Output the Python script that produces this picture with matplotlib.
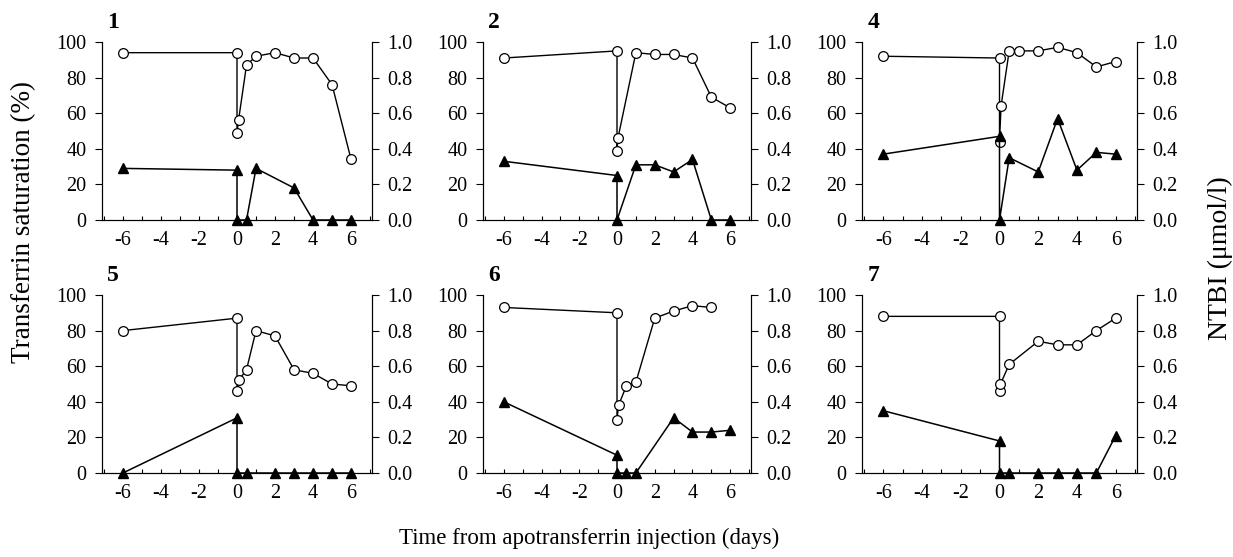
import matplotlib
matplotlib.use("Agg")
import matplotlib.pyplot as plt
from matplotlib.ticker import MultipleLocator

plt.rcParams['font.family'] = ['Liberation Serif', 'DejaVu Serif']

# transferrin saturation (%) - open circles
t_sat_1 = [-6, 0, 0, 0.08, 0.5, 1, 2, 3, 4, 5, 6]
sat_1 = [94, 94, 49, 56, 87, 92, 94, 91, 91, 76, 34]
t_sat_2 = [-6, 0, 0, 0.05, 1, 2, 3, 4, 5, 6]
sat_2 = [91, 95, 39, 46, 94, 93, 93, 91, 69, 63]
t_sat_4 = [-6, 0, 0, 0.08, 0.5, 1, 2, 3, 4, 5, 6]
sat_4 = [92, 91, 44, 64, 95, 95, 95, 97, 94, 86, 89]
t_sat_5 = [-6, 0, 0, 0.08, 0.5, 1, 2, 3, 4, 5, 6]
sat_5 = [80, 87, 46, 52, 58, 80, 77, 58, 56, 50, 49]
t_sat_6 = [-6, 0, 0, 0.08, 0.5, 1, 2, 3, 4, 5]
sat_6 = [93, 90, 30, 38, 49, 51, 87, 91, 94, 93]
t_sat_7 = [-6, 0, 0, 0.05, 0.5, 2, 3, 4, 5, 6]
sat_7 = [88, 88, 46, 50, 61, 74, 72, 72, 80, 87]

# NTBI (umol/l) - filled triangles
t_ntbi_1 = [-6, 0, 0, 0.5, 1, 3, 4, 5, 6]
ntbi_1 = [0.29, 0.28, 0, 0, 0.29, 0.18, 0, 0, 0]
t_ntbi_2 = [-6, 0, 0, 1, 2, 3, 4, 5, 6]
ntbi_2 = [0.33, 0.25, 0, 0.31, 0.31, 0.27, 0.34, 0, 0]
t_ntbi_4 = [-6, 0, 0, 0.5, 2, 3, 4, 5, 6]
ntbi_4 = [0.37, 0.47, 0, 0.35, 0.27, 0.57, 0.28, 0.38, 0.37]
t_ntbi_5 = [-6, 0, 0, 0.5, 2, 3, 4, 5, 6]
ntbi_5 = [0, 0.31, 0, 0, 0, 0, 0, 0, 0]
t_ntbi_6 = [-6, 0, 0, 0.5, 1, 3, 4, 5, 6]
ntbi_6 = [0.40, 0.10, 0, 0, 0, 0.31, 0.23, 0.23, 0.24]
t_ntbi_7 = [-6, 0, 0, 0.5, 2, 3, 4, 5, 6]
ntbi_7 = [0.35, 0.18, 0, 0, 0, 0, 0, 0, 0.21]

paineis = [
    ("1", t_sat_1, sat_1, t_ntbi_1, ntbi_1),
    ("2", t_sat_2, sat_2, t_ntbi_2, ntbi_2),
    ("4", t_sat_4, sat_4, t_ntbi_4, ntbi_4),
    ("5", t_sat_5, sat_5, t_ntbi_5, ntbi_5),
    ("6", t_sat_6, sat_6, t_ntbi_6, ntbi_6),
    ("7", t_sat_7, sat_7, t_ntbi_7, ntbi_7),
]

W, H = 1233, 557
fig = plt.figure(figsize=(W / 100, H / 100), dpi=100)

# pixel boxes (left, right) for each column, (top, bottom) for each row
colunas = [(102, 372), (483, 751), (862, 1137)]
linhas = [(42, 220), (295, 473)]

for i, (nome, ts, sat, tn, ntbi) in enumerate(paineis):
    l, r = colunas[i % 3]
    top, bot = linhas[i // 3]
    ax = fig.add_axes([l / W, 1 - bot / H, (r - l) / W, (bot - top) / H])
    ax2 = ax.twinx()

    ax.plot(ts, sat, color='black', lw=1, marker='o', ms=7,
            mfc='white', mec='black', mew=0.9, clip_on=False, zorder=3)
    ax2.plot(tn, ntbi, color='black', lw=1.1, marker='^', ms=7,
             mfc='black', mec='black', clip_on=False, zorder=3)

    ax.set_xlim(-7.1, 7.1)
    ax.set_ylim(0, 100)
    ax2.set_ylim(0, 1.0)
    ax.set_xticks([-6, -4, -2, 0, 2, 4, 6])
    ax.set_xticklabels(['-6', '-4', '-2', '0', '2', '4', '6'])
    ax.xaxis.set_minor_locator(MultipleLocator(1))
    ax.set_yticks([0, 20, 40, 60, 80, 100])
    ax2.set_yticks([0, 0.2, 0.4, 0.6, 0.8, 1.0])
    ax2.set_yticklabels(['0.0', '0.2', '0.4', '0.6', '0.8', '1.0'])

    ax.tick_params(axis='x', which='both', direction='in', length=3,
                   width=0.8, labelsize=14.5, pad=8)
    ax.tick_params(axis='y', direction='out', length=5, width=0.8,
                   labelsize=14.5, pad=6)
    ax2.tick_params(axis='y', direction='out', length=5, width=0.8,
                    labelsize=14.5, pad=6)

    for a in (ax, ax2):
        a.spines['top'].set_visible(False)
        for s in a.spines.values():
            s.set_linewidth(0.8)
    ax.patch.set_visible(False)

    ax.text(0.02, 1.05, nome, transform=ax.transAxes, fontsize=17,
            fontweight='bold', ha='left', va='bottom')

fig.text(24 / W, 1 - 222 / H, 'Transferrin saturation (%)', rotation=90,
         fontsize=19.5, ha='center', va='center')
fig.text(1220 / W, 1 - 258 / H, 'NTBI (\u03bcmol/l)', rotation=90,
         fontsize=20, ha='center', va='center')
fig.text(589 / W, 1 - 538 / H, 'Time from apotransferrin injection (days)',
         fontsize=16.5, ha='center', va='center')

plt.savefig('out.png', dpi=100)
